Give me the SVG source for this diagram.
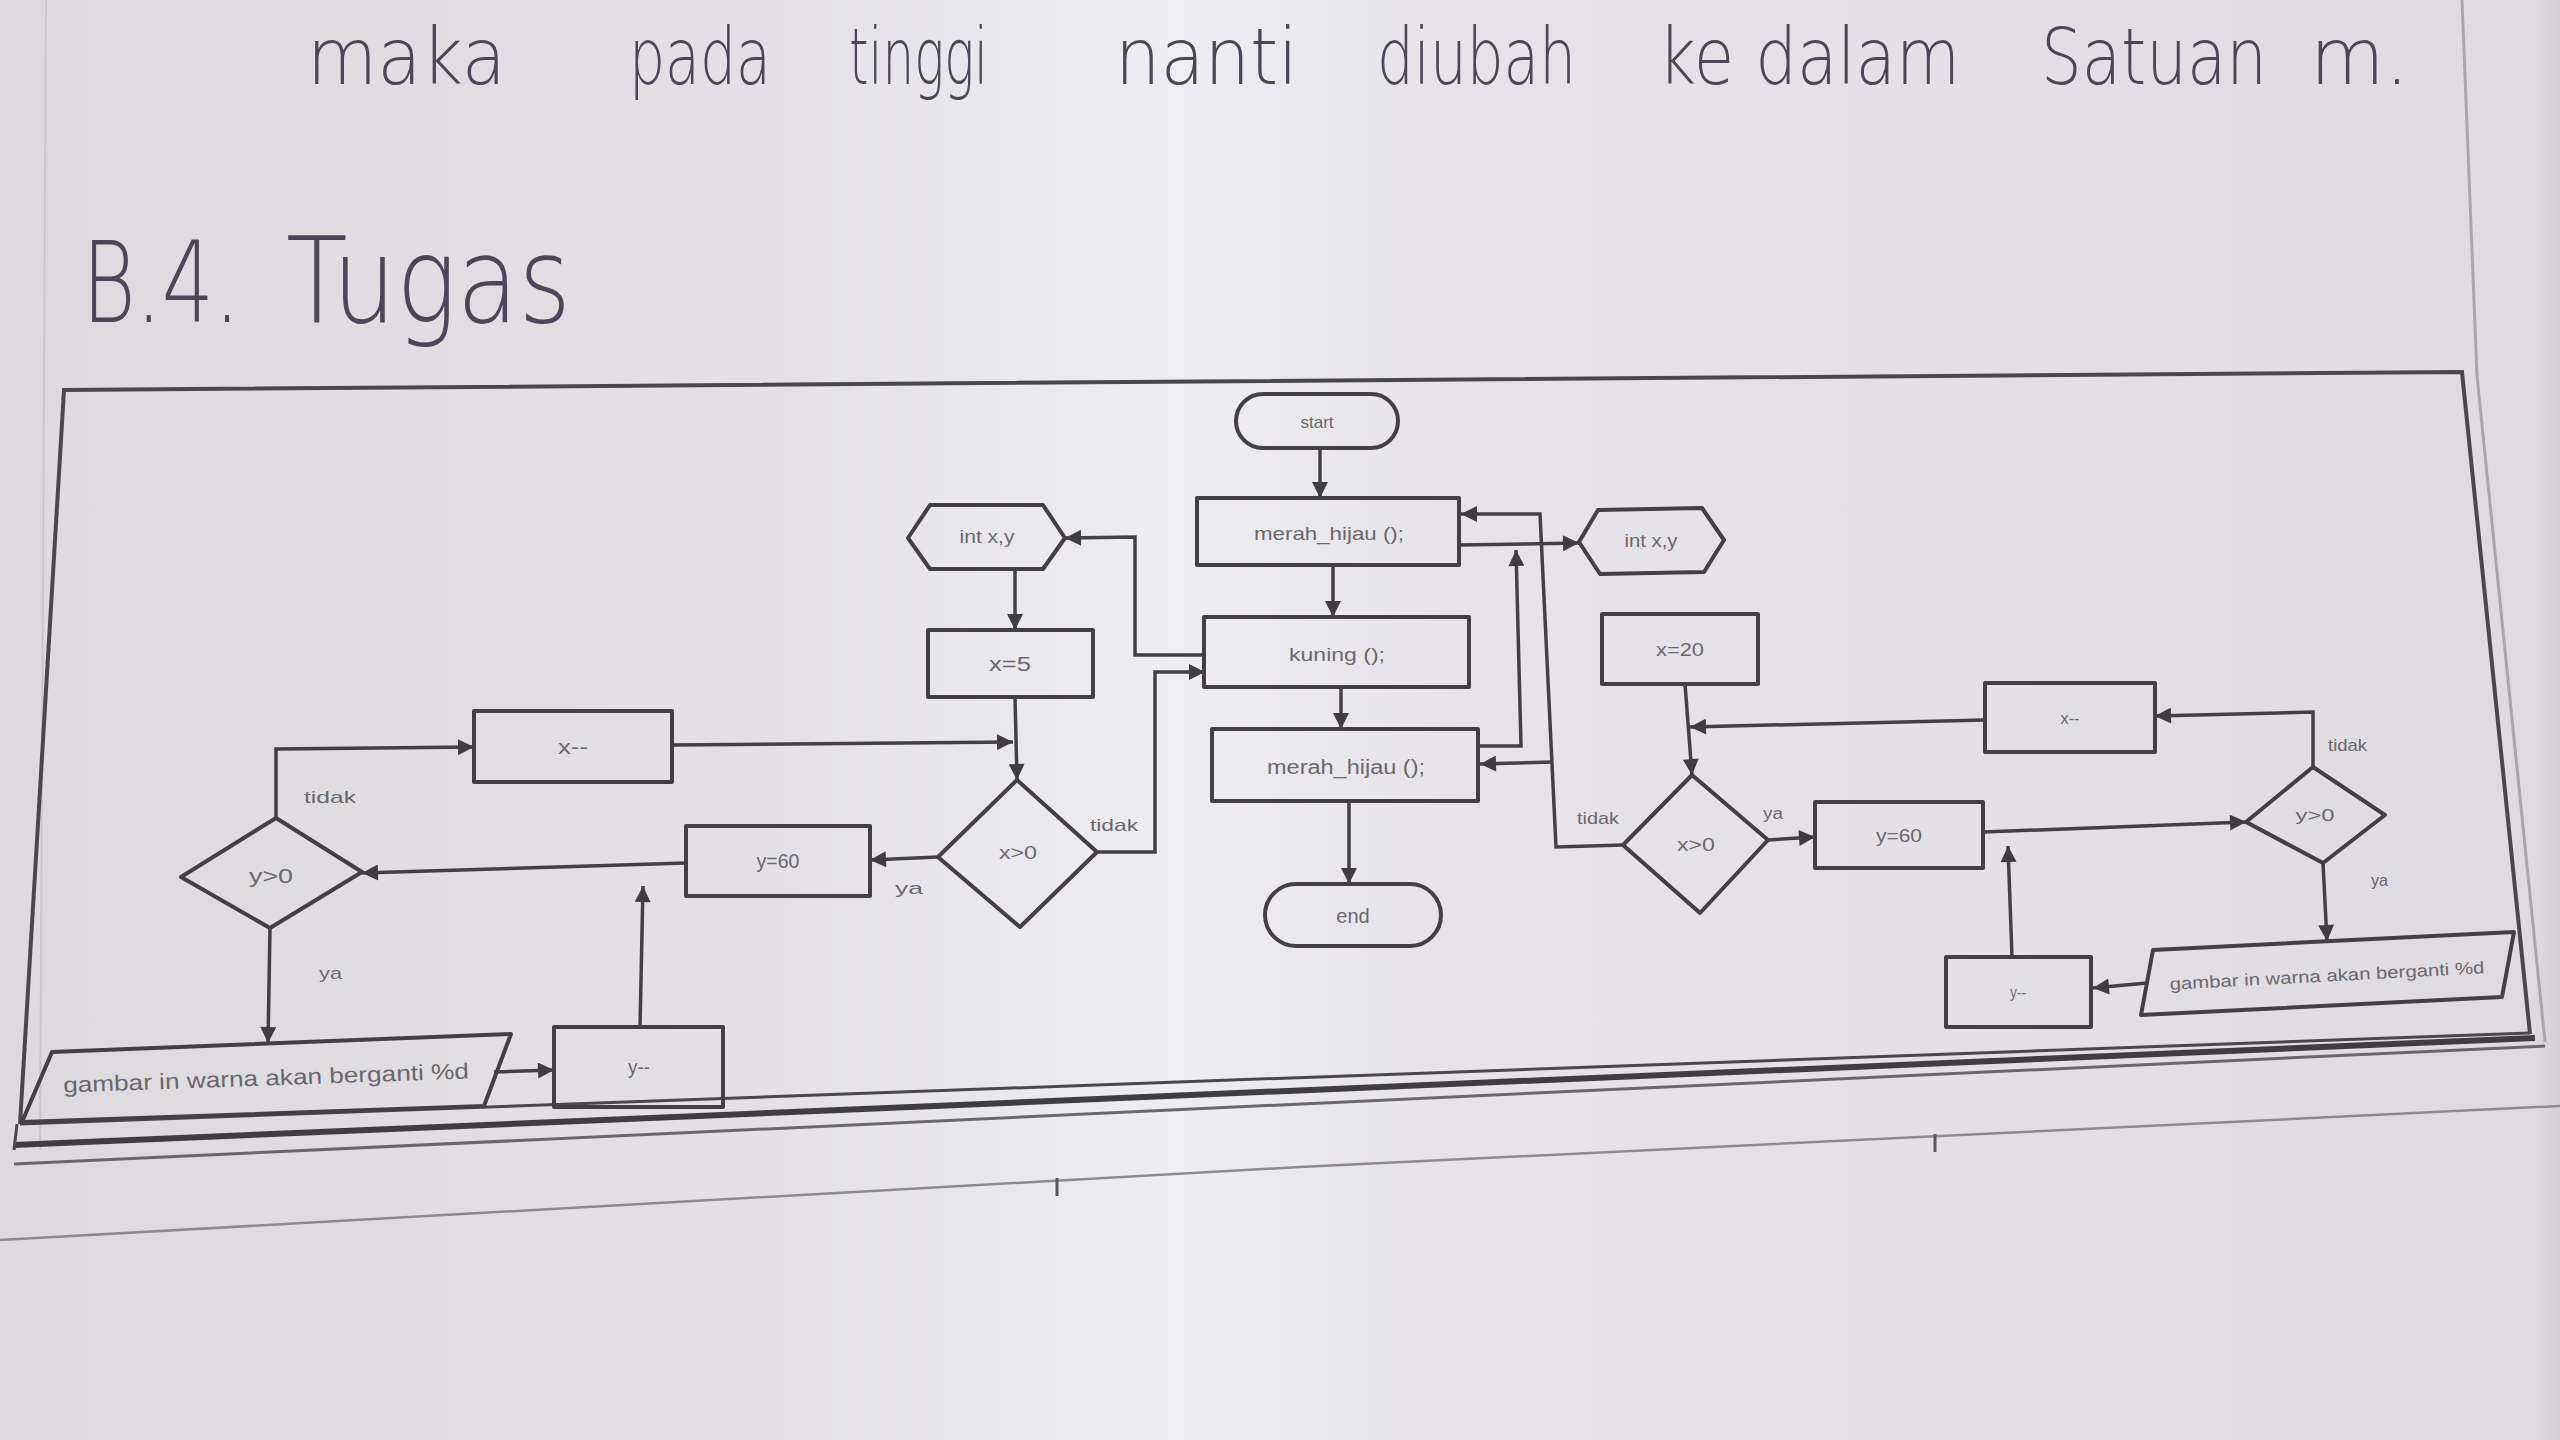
<svg xmlns="http://www.w3.org/2000/svg" width="2560" height="1440" viewBox="0 0 2560 1440">
<defs>
<linearGradient id="paper" x1="0" y1="0" x2="1" y2="0">
<stop offset="0" stop-color="#dcdadd"/>
<stop offset="0.3" stop-color="#e3e1e5"/>
<stop offset="0.46" stop-color="#eeedf1"/>
<stop offset="0.56" stop-color="#e6e4e8"/>
<stop offset="0.8" stop-color="#e2e0e4"/>
<stop offset="0.99" stop-color="#dddbe0"/>
<stop offset="1" stop-color="#d3d1d6"/>
</linearGradient>
<marker id="ah" viewBox="0 0 10 10" refX="10" refY="5" markerWidth="18" markerHeight="16" markerUnits="userSpaceOnUse" orient="auto">
<path d="M0,0 L10,5 L0,10 z" fill="#403d42"/>
</marker>
<style>
.shape{fill:none;stroke:#433f45;stroke-width:4;stroke-linejoin:round}
.con{fill:none;stroke:#433f45;stroke-width:3.5;marker-end:url(#ah)}
.t{font-family:"Liberation Sans",Arial,sans-serif;fill:#6a676d;text-anchor:middle;dominant-baseline:central}
.lbl{font-family:"Liberation Sans",Arial,sans-serif;fill:#6a676d;font-size:17px}
.hand{font-family:"DejaVu Sans","Liberation Sans",sans-serif;fill:#4b4658;font-weight:300}
</style>
</defs>
<rect x="0" y="0" width="2560" height="1440" fill="url(#paper)"/>

<!-- page lines -->
<g id="page">
<line x1="46" y1="0" x2="40" y2="1150" stroke="#c9c7cc" stroke-width="2"/>
<polyline points="2462,0 2477,376 2545,1042" fill="none" stroke="#a9a6ab" stroke-width="3"/>
<polyline points="0,1240 1300,1167 2560,1106" fill="none" stroke="#8d8a90" stroke-width="2.5"/>
<line x1="1057" y1="1178" x2="1057" y2="1196" stroke="#5a565c" stroke-width="3"/>
<line x1="1935" y1="1134" x2="1935" y2="1152" stroke="#5a565c" stroke-width="3"/>
</g>

<!-- handwritten text -->
<g id="handwriting">
<text class="hand" x="307" y="84" font-size="78" textLength="199" lengthAdjust="spacingAndGlyphs">maka</text>
<text class="hand" x="629" y="84" font-size="78" textLength="142" lengthAdjust="spacingAndGlyphs">pada</text>
<text class="hand" x="849" y="84" font-size="78" textLength="139" lengthAdjust="spacingAndGlyphs">tinggi</text>
<text class="hand" x="1115" y="84" font-size="78" textLength="183" lengthAdjust="spacingAndGlyphs">nanti</text>
<text class="hand" x="1377" y="84" font-size="78" textLength="199" lengthAdjust="spacingAndGlyphs">diubah</text>
<text class="hand" x="1658" y="84" font-size="78" textLength="302" lengthAdjust="spacingAndGlyphs">ke dalam</text>
<text class="hand" x="2041" y="84" font-size="78" textLength="226" lengthAdjust="spacingAndGlyphs">Satuan</text>
<text class="hand" x="2310" y="84" font-size="78" textLength="99" lengthAdjust="spacingAndGlyphs">m.</text>
<text class="hand" x="82" y="322" font-size="112" textLength="158" lengthAdjust="spacingAndGlyphs">B.4.</text>
<text class="hand" x="286" y="322" font-size="120" textLength="285" lengthAdjust="spacingAndGlyphs">Tugas</text>
</g>

<!-- frame of printed flowchart -->
<g id="frame">
<polyline points="20,1124 64,390 2462,372 2530,1034" fill="none" stroke="#4a474c" stroke-width="4"/>
<line x1="20" y1="1124" x2="2530" y2="1033" stroke="#4a474c" stroke-width="3"/>
<line x1="14" y1="1145" x2="2535" y2="1038" stroke="#403d42" stroke-width="6"/>
<line x1="14" y1="1164" x2="2545" y2="1046" stroke="#6a676d" stroke-width="3"/>
<line x1="17" y1="1124" x2="14" y2="1150" stroke="#4a474c" stroke-width="3"/>
</g>

<!-- connectors -->
<g id="connectors">
<polyline class="con" points="1320,449 1320,498"/>
<polyline class="con" points="1333,565 1333,617"/>
<polyline class="con" points="1341,687 1341,729"/>
<polyline class="con" points="1349,801 1349,884"/>
<polyline class="con" points="1459,545 1579,543"/>
<polyline class="con" points="1478,746 1521,746 1516,550"/>
<polyline class="con" points="1623,845 1556,847 1540,514 1461,514"/>
<polyline class="con" points="1553,762 1480,764"/>
<polyline class="con" points="1204,655 1135,655 1135,537 1065,538"/>
<polyline class="con" points="1097,852 1155,852 1155,672 1205,672"/>
<polyline class="con" points="1015,569 1015,630"/>
<polyline class="con" points="1015,697 1017,780"/>
<polyline class="con" points="672,745 1013,742"/>
<polyline class="con" points="938,857 870,860"/>
<polyline class="con" points="686,863 362,873"/>
<polyline class="con" points="276,818 276,749 474,747"/>
<polyline class="con" points="270,928 268,1043"/>
<polyline class="con" points="494,1072 554,1070"/>
<polyline class="con" points="640,1027 643,886"/>
<polyline class="con" points="1685,684 1692,775"/>
<polyline class="con" points="1985,720 1690,727"/>
<polyline class="con" points="1768,840 1815,837"/>
<polyline class="con" points="1983,832 2246,822"/>
<polyline class="con" points="2313,767 2313,712 2155,716"/>
<polyline class="con" points="2323,863 2327,941"/>
<polyline class="con" points="2147,983 2093,988"/>
<polyline class="con" points="2012,957 2008,846"/>
</g>

<!-- labels -->
<g id="labels">
<text class="lbl" x="1090" y="831" textLength="48" lengthAdjust="spacingAndGlyphs">tidak</text>
<text class="lbl" x="895" y="894" textLength="28" lengthAdjust="spacingAndGlyphs">ya</text>
<text class="lbl" x="304" y="803" textLength="52" lengthAdjust="spacingAndGlyphs">tidak</text>
<text class="lbl" x="319" y="979" textLength="23" lengthAdjust="spacingAndGlyphs">ya</text>
<text class="lbl" x="1577" y="824" textLength="42" lengthAdjust="spacingAndGlyphs">tidak</text>
<text class="lbl" x="1763" y="819" textLength="20" lengthAdjust="spacingAndGlyphs">ya</text>
<text class="lbl" x="2328" y="751" textLength="39" lengthAdjust="spacingAndGlyphs">tidak</text>
<text class="lbl" x="2371" y="886" textLength="17" lengthAdjust="spacingAndGlyphs">ya</text>
</g>

<!-- center column -->
<g id="start"><rect class="shape" x="1236" y="394" width="162" height="54" rx="27"/><text class="t" x="1317" y="422" font-size="17">start</text></g>
<g id="merah_hijau_1"><rect class="shape" x="1197" y="498" width="262" height="67"/><text class="t" x="1329" y="533" font-size="19" textLength="150" lengthAdjust="spacingAndGlyphs">merah_hijau ();</text></g>
<g id="kuning"><rect class="shape" x="1204" y="617" width="265" height="70"/><text class="t" x="1337" y="654" font-size="19" textLength="96" lengthAdjust="spacingAndGlyphs">kuning ();</text></g>
<g id="merah_hijau_2"><rect class="shape" x="1212" y="729" width="266" height="72"/><text class="t" x="1346" y="767" font-size="20" textLength="158" lengthAdjust="spacingAndGlyphs">merah_hijau ();</text></g>
<g id="end"><rect class="shape" x="1265" y="884" width="176" height="62" rx="31"/><text class="t" x="1353" y="916" font-size="20">end</text></g>

<!-- left branch -->
<g id="int_left"><polygon class="shape" points="908,538 930,505 1043,505 1065,538 1043,569 930,569"/><text class="t" x="987" y="537" font-size="18" textLength="55" lengthAdjust="spacingAndGlyphs">int x,y</text></g>
<g id="x5"><rect class="shape" x="928" y="630" width="165" height="67"/><text class="t" x="1010" y="664" font-size="20" textLength="42" lengthAdjust="spacingAndGlyphs">x=5</text></g>
<g id="xgt0_left"><polygon class="shape" points="1017,780 1097,852 1020,927 938,857"/><text class="t" x="1018" y="852" font-size="19" textLength="38" lengthAdjust="spacingAndGlyphs">x&gt;0</text></g>
<g id="y60_left"><rect class="shape" x="686" y="826" width="184" height="70"/><text class="t" x="778" y="861" font-size="20" textLength="43" lengthAdjust="spacingAndGlyphs">y=60</text></g>
<g id="xmm_left"><rect class="shape" x="474" y="711" width="198" height="71"/><text class="t" x="573" y="747" font-size="20" textLength="30" lengthAdjust="spacingAndGlyphs">x--</text></g>
<g id="ygt0_left"><polygon class="shape" points="276,818 362,872 270,928 181,877"/><text class="t" x="271" y="876" font-size="20" textLength="44" lengthAdjust="spacingAndGlyphs">y&gt;0</text></g>
<g id="gambar_left"><polygon class="shape" points="52,1052 511,1034 484,1106 22,1122"/><text class="t" x="266" y="1078" font-size="22" textLength="406" lengthAdjust="spacingAndGlyphs" transform="rotate(-2 266 1078)">gambar in warna akan berganti %d</text></g>
<g id="ymm_left"><rect class="shape" x="554" y="1027" width="169" height="80"/><text class="t" x="639" y="1067" font-size="20" textLength="22" lengthAdjust="spacingAndGlyphs">y--</text></g>

<!-- right branch -->
<g id="int_right"><polygon class="shape" points="1579,542 1598,510 1702,508 1724,540 1704,572 1600,574"/><text class="t" x="1651" y="541" font-size="18" textLength="53" lengthAdjust="spacingAndGlyphs">int x,y</text></g>
<g id="x20"><rect class="shape" x="1602" y="614" width="156" height="70"/><text class="t" x="1680" y="649" font-size="19" textLength="48" lengthAdjust="spacingAndGlyphs">x=20</text></g>
<g id="xgt0_right"><polygon class="shape" points="1692,775 1768,840 1700,913 1623,845"/><text class="t" x="1696" y="845" font-size="18" textLength="38" lengthAdjust="spacingAndGlyphs">x&gt;0</text></g>
<g id="y60_right"><rect class="shape" x="1815" y="802" width="168" height="66"/><text class="t" x="1899" y="836" font-size="18" textLength="46" lengthAdjust="spacingAndGlyphs">y=60</text></g>
<g id="xmm_right"><rect class="shape" x="1985" y="683" width="170" height="69"/><text class="t" x="2070" y="718" font-size="17" textLength="19" lengthAdjust="spacingAndGlyphs">x--</text></g>
<g id="ygt0_right"><polygon class="shape" points="2313,767 2385,815 2323,863 2246,822"/><text class="t" x="2315" y="815" font-size="17" textLength="39" lengthAdjust="spacingAndGlyphs">y&gt;0</text></g>
<g id="gambar_right"><polygon class="shape" points="2153,950 2514,932 2502,997 2141,1015"/><text class="t" x="2327" y="976" font-size="17" textLength="315" lengthAdjust="spacingAndGlyphs" transform="rotate(-3 2327 976)">gambar in warna akan berganti %d</text></g>
<g id="ymm_right"><rect class="shape" x="1946" y="957" width="145" height="70"/><text class="t" x="2018" y="992" font-size="16" textLength="16" lengthAdjust="spacingAndGlyphs">y--</text></g>
</svg>
